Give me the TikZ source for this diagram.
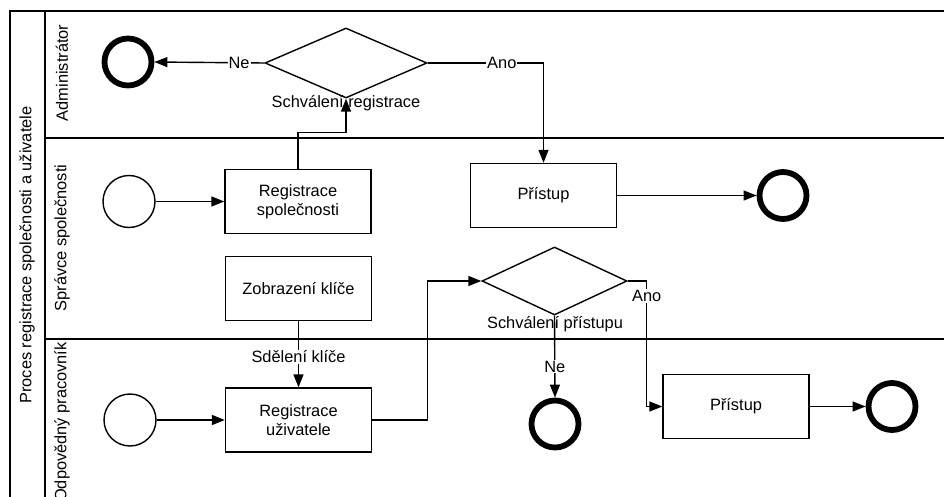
\documentclass[tikz,border=0pt]{standalone}
\usepackage{fontspec}
\setmainfont{Liberation Sans}
\usetikzlibrary{arrows.meta,shapes.geometric}
\begin{document}
\begin{tikzpicture}[x=1pt,y=-1pt,
  font=\fontsize{16.4}{19}\selectfont,
  every node/.style={inner sep=0pt},
  task/.style={draw,line width=1.4pt,minimum width=146pt,minimum height=64pt,align=center,fill=white},
  startev/.style={draw,circle,line width=1.4pt,minimum size=52pt},
  endev/.style={draw,circle,line width=5.8pt,minimum size=47pt},
  gate/.style={draw,diamond,line width=1.4pt},
  flow/.style={line width=1.4pt,-{Triangle[length=13pt,width=10pt]}},
  lbl/.style={fill=white,inner sep=1pt},
  lane/.style={line width=1.4pt}]
\useasboundingbox (0,0) rectangle (944,497);
\clip (0,0) rectangle (944,497);
\fill[white] (0,0) rectangle (944,497);

% pool and lanes
\draw[lane] (950,11) -- (10,11) -- (10,505);
\draw[lane] (45,11) -- (45,505);
\draw[lane] (45,138) -- (950,138);
\draw[lane] (45,339) -- (950,339);
\node[rotate=90] (pool) at (27,255) {Proces registrace společnosti a uživatele};
\node[rotate=90] (laneA) at (62,73) {Administrátor};
\node[rotate=90] (laneB) at (62,238) {Správce společnosti};
\node[rotate=90] (laneC) at (62,422) {Odpovědný pracovník};

% administrator lane
\node[endev] (e1) at (128,62) {};
\node[gate,minimum width=162pt,minimum height=70pt] (d1) at (346,63) {};
\node (d1t) at (346,103) {Schválení registrace};

% company administrator lane
\node[startev] (s1) at (129,201.5) {};
\node[task] (reg1) at (298,201.5) {Registrace\\společnosti};
\node[task] (acc1) at (543.5,195.5) {Přístup};
\node[endev] (e2) at (783,195.5) {};
\node[task] (key) at (298.5,288.5) {Zobrazení klíče};
\node[gate,minimum width=145pt,minimum height=68pt] (d2) at (554.5,281) {};
\node (d2t) at (555,324) {Schválení přístupu};

% responsible employee lane
\node[startev] (s3) at (130,420) {};
\node[task] (reg2) at (298.5,420) {Registrace\\uživatele};
\node[endev] (e3) at (555,424) {};
\node[task] (acc2) at (736,406.5) {Přístup};
\node[endev] (e4) at (892,406.5) {};

% flows
\draw[flow] (d1.west) -- node[lbl,pos=0.23] {Ne} (e1.east);
\draw[flow] (reg1.north) -- ++(0,-36) -| (d1.south);
\draw[flow] (d1.east) -| node[lbl,pos=0.32] {Ano} (acc1.north);
\draw[flow] (s1) -- (reg1);
\draw[flow] (acc1) -- (e2);
\draw[flow] (key.south) -- node[lbl,pos=0.54] {Sdělení klíče} (reg2.north);
\draw[flow] (reg2.east) -- ++(55,0) |- (d2.west);
\draw[flow] (d2.south) -- node[lbl,pos=0.62] {Ne} (e3.north);
\draw[flow] (d2.east) -- ++(19,0) |- node[lbl,pos=0.06] {Ano} (acc2.west);
\draw[flow] (s3) -- (reg2);
\draw[flow] (acc2) -- (e4);
\end{tikzpicture}
\end{document}
